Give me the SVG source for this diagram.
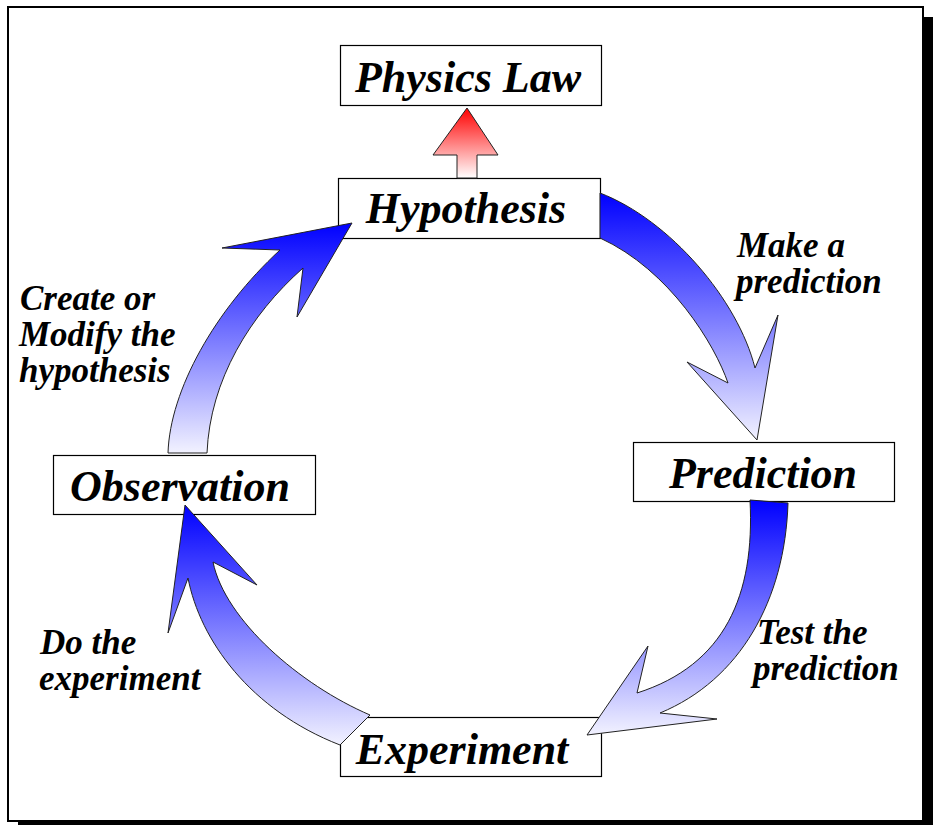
<svg xmlns="http://www.w3.org/2000/svg" width="933" height="825" viewBox="0 0 933 825">
<defs>
<linearGradient id="blue" x1="0" y1="0" x2="0" y2="1">
<stop offset="0" stop-color="#0000ff"/>
<stop offset="1" stop-color="#f2f2ff"/>
</linearGradient>
<linearGradient id="red" x1="0" y1="0" x2="0" y2="1">
<stop offset="0" stop-color="#ff0000"/>
<stop offset="1" stop-color="#ffffff"/>
</linearGradient>
<style>
.box{fill:#fff;stroke:#000;stroke-width:1.2}
.big{font-family:"Liberation Serif","Times New Roman",serif;font-weight:bold;font-style:italic;font-size:44px;text-anchor:middle;fill:#000}
.lbl{font-family:"Liberation Serif","Times New Roman",serif;font-weight:bold;font-style:italic;font-size:35px;fill:#000}
.arr{fill:url(#blue);stroke:#222;stroke-width:1;stroke-linejoin:miter}
.red{fill:url(#red);stroke:#222;stroke-width:1}
</style>
</defs>
<rect x="18" y="17" width="915" height="808" fill="#000"/>
<rect x="8" y="7" width="915" height="814" fill="#fff" stroke="#000" stroke-width="2"/>
<g id="physics-law"><rect class="box" x="340.5" y="45.5" width="261" height="60"/><text class="big" x="468" y="92">Physics Law</text></g>
<g id="hypothesis"><rect class="box" x="338.5" y="178.5" width="262" height="60"/><text class="big" x="466" y="223">Hypothesis</text></g>
<g id="prediction"><rect class="box" x="633.5" y="442.5" width="261" height="59"/><text class="big" x="763" y="488">Prediction</text></g>
<g id="observation"><rect class="box" x="53.5" y="455.5" width="262" height="59"/><text class="big" x="180" y="501">Observation</text></g>
<g id="experiment"><rect class="box" x="340.5" y="717.5" width="261" height="59"/><text class="big" x="462" y="764">Experiment</text></g>
<g id="connectors">
<path class="red" d="M457,178 L457,155 L433,155 L467,108 L498,155 L477,155 L477,178 Z"/>
<path class="arr" d="M600,193 C670,220 738,300 755,368 L778,315 L757,440 L687,362 L728,383 C715,345 670,270 600,238 Z"/>
<path class="arr" d="M750,500 L788,503 C785,600 740,680 660,713 L717,719 L587,735 L648,646 L637,693 C725,665 755,595 750,500 Z"/>
<path class="arr" d="M340,745 L370,715 C300,685 225,620 213,562 L257,585 L185,505 L168,633 L188,578 C200,640 250,710 340,745 Z"/>
<path class="arr" d="M168,453 C170,390 215,310 280,250 L222,248 L352,223 L297,317 L303,268 C250,315 210,380 207,453 Z"/>
</g>
<g id="labels">
<text class="lbl" x="737" y="257">Make a</text>
<text class="lbl" x="736" y="293">prediction</text>
<text class="lbl" x="757" y="644">Test the</text>
<text class="lbl" x="753" y="680">prediction</text>
<text class="lbl" x="40" y="654">Do the</text>
<text class="lbl" x="39" y="690">experiment</text>
<text class="lbl" x="20" y="310">Create or</text>
<text class="lbl" x="19" y="346">Modify the</text>
<text class="lbl" x="19" y="382">hypothesis</text>
</g>
</svg>
